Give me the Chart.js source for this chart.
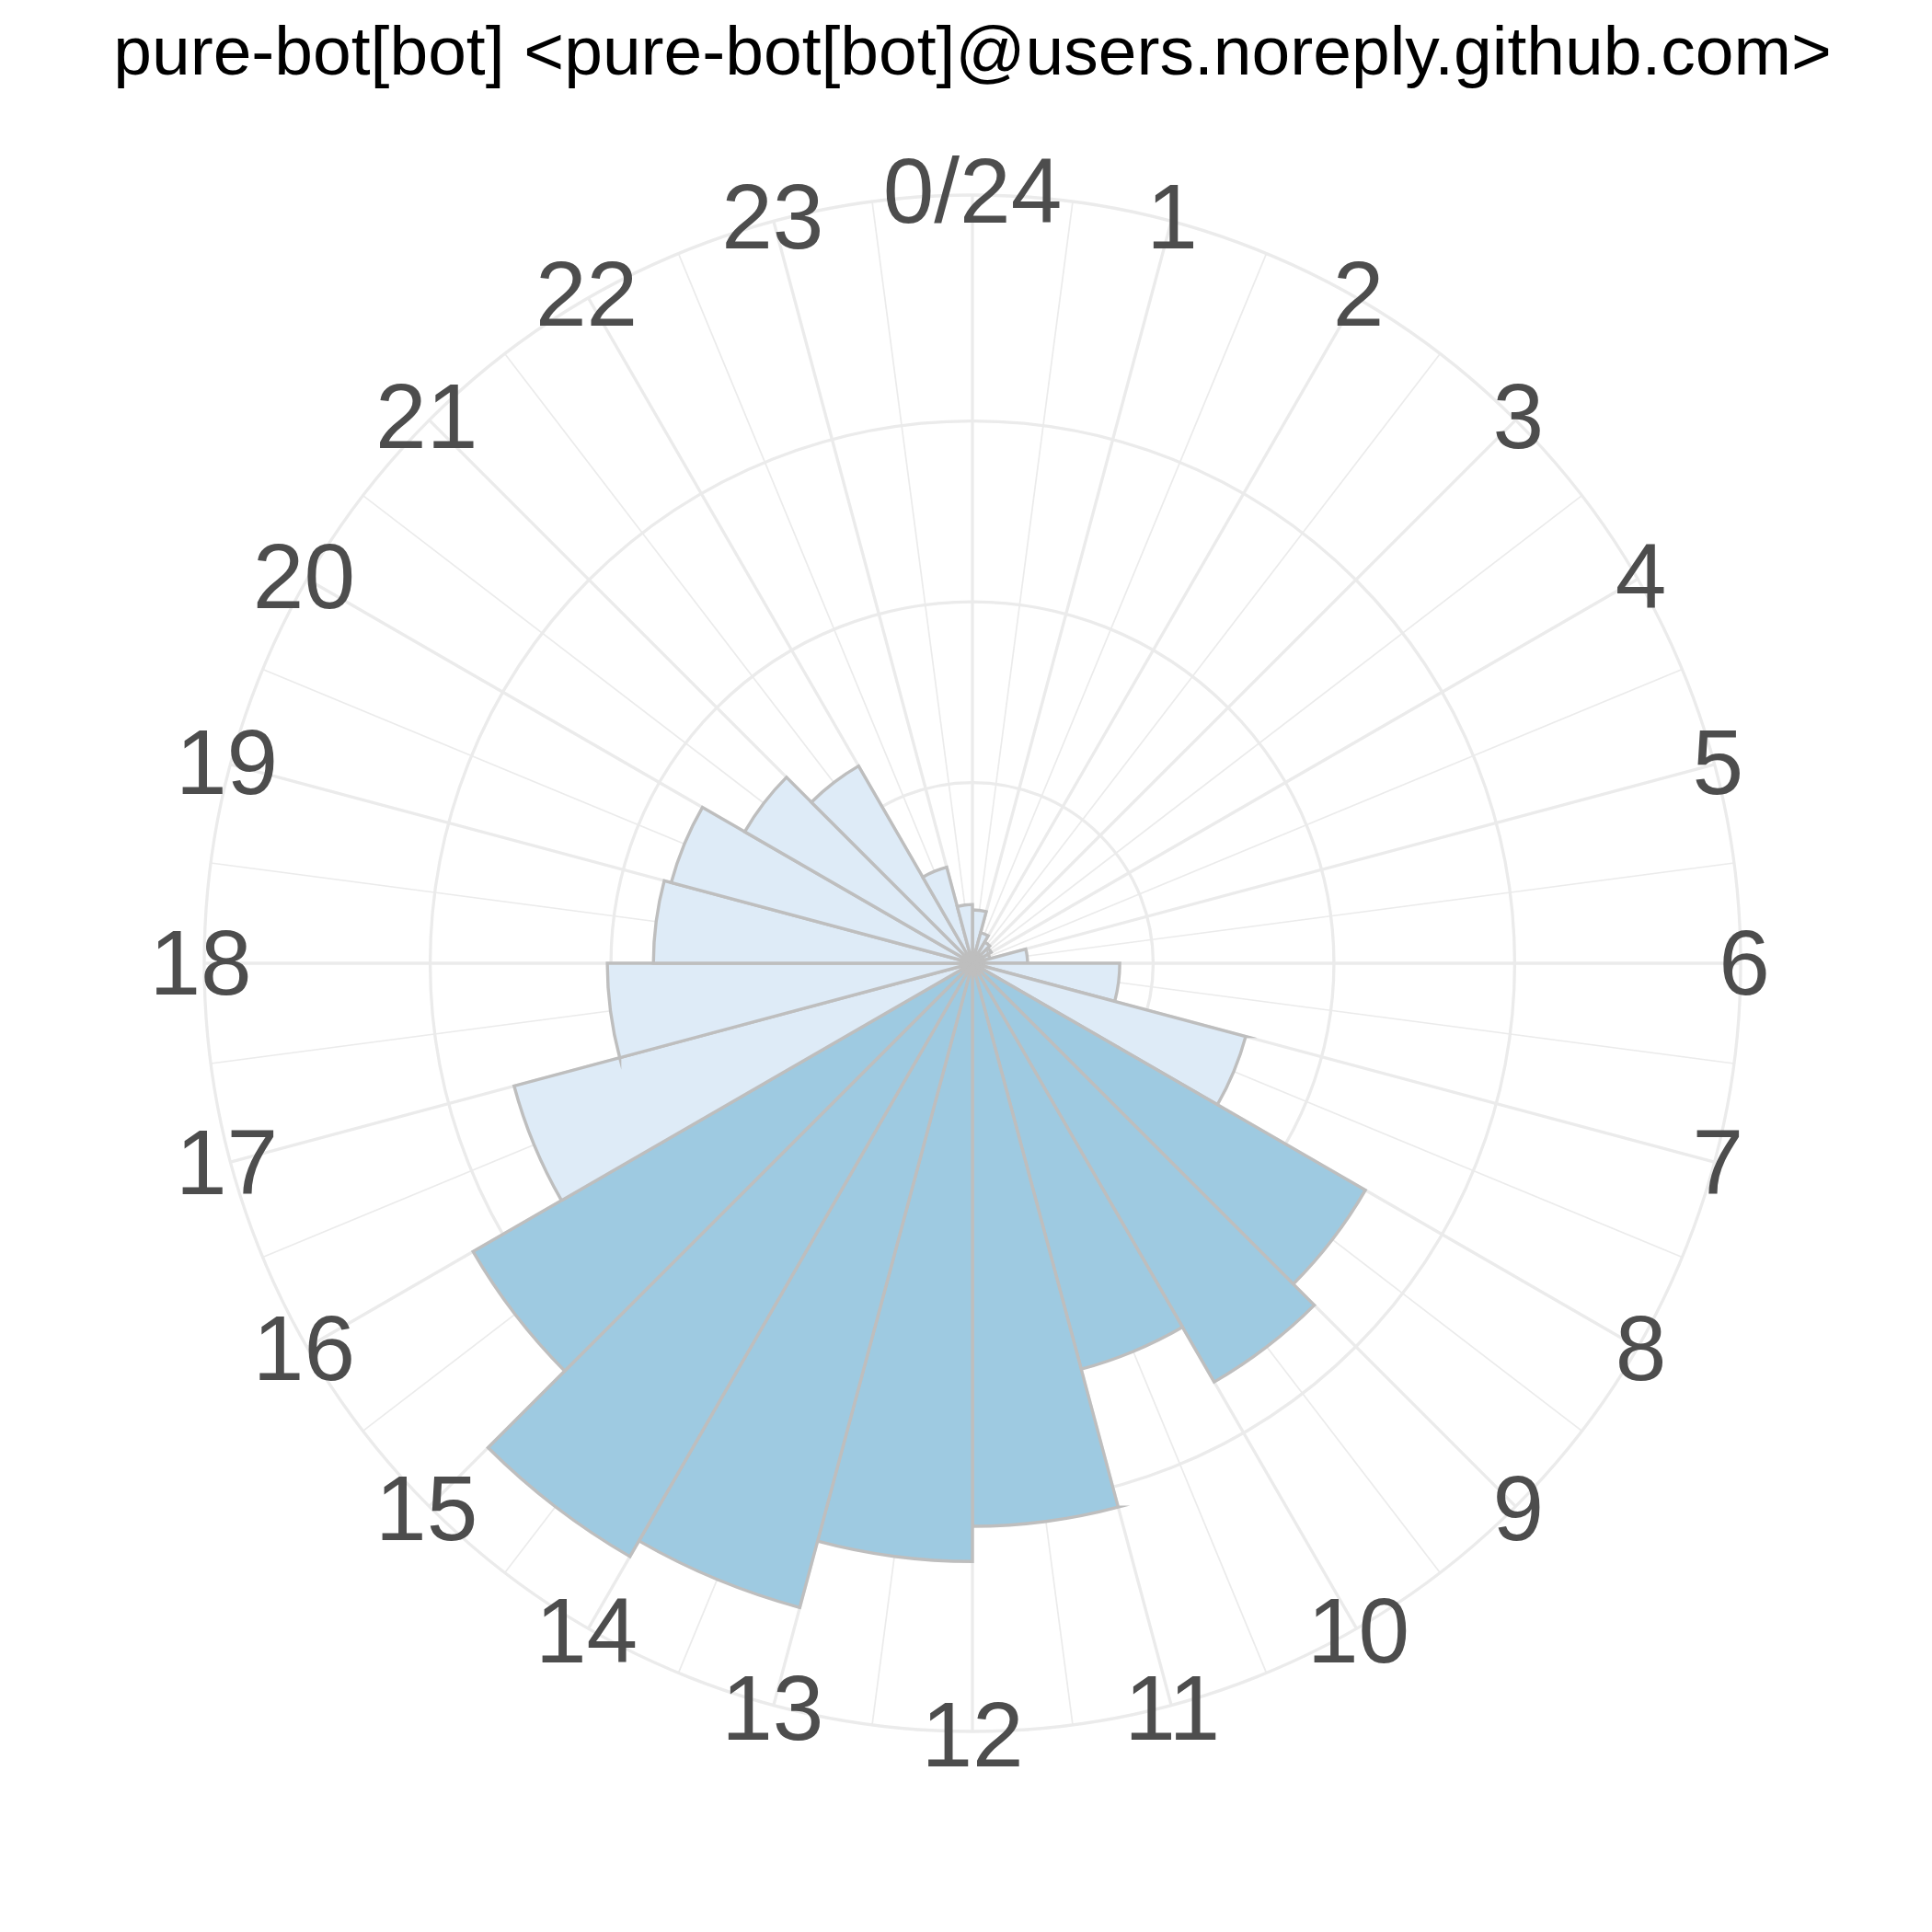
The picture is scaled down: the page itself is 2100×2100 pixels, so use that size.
<!DOCTYPE html>
<html>
<head>
<meta charset="utf-8">
<title>commit hours</title>
<script src="https://cdn.jsdelivr.net/npm/chart.js@4.4.1/dist/chart.umd.min.js"></script>
<style>
    html, body { margin: 0; padding: 0; background: #ffffff; }
</style>
</head>
<body>
<canvas id="hours" width="2100" height="2100"></canvas>
<script>
const hourLabels = ['0/24', '1', '2', '3', '4', '5', '6', '7', '8', '9', '10', '11',
                    '12', '13', '14', '15', '16', '17', '18', '19', '20', '21', '22', '23'];
const commitCounts = [5.9, 3.5, 2.7, 2.4, 2.0, 6.1, 16.3, 31.3, 50.2, 53.5, 46.5, 62.3,
                      66.2, 73.8, 75.8, 63.8, 52.5, 40.4, 35.3, 34.5, 29.1, 25.2, 11.0, 6.5];
const busyHours = [8, 9, 10, 11, 12, 13, 14, 15];
const ringValues = [0, 20, 40, 60, 85];
const chartTitle = 'pure-bot[bot] <pure-bot[bot]@users.noreply.github.com>';

const lightBlue = '#deebf7';
const darkBlue = '#9ecae1';
const gridGrey = '#ebebeb';

// thin spokes half way between the hour spokes
const minorSpokes = {
    id: 'minorSpokes',
    beforeDatasetsDraw(chart) {
        const s = chart.scales.r;
        const ctx = chart.ctx;
        ctx.save();
        ctx.strokeStyle = gridGrey;
        ctx.lineWidth = 1.7;
        for (let i = 0; i < hourLabels.length; i++) {
            const p = s.getPointPosition(i, s.drawingArea, Math.PI / hourLabels.length);
            ctx.beginPath();
            ctx.moveTo(s.xCenter, s.yCenter);
            ctx.lineTo(p.x, p.y);
            ctx.stroke();
        }
        ctx.restore();
    }
};

// hour labels sit centred on the outer ring
const hourText = {
    id: 'hourText',
    afterDatasetsDraw(chart) {
        const s = chart.scales.r;
        const ctx = chart.ctx;
        ctx.save();
        ctx.font = '100px "Liberation Sans", Arial, sans-serif';
        ctx.fillStyle = '#4d4d4d';
        ctx.textAlign = 'center';
        ctx.textBaseline = 'middle';
        hourLabels.forEach((t, i) => {
            const p = s.getPointPosition(i, s.drawingArea + 4);
            ctx.fillText(t, p.x, p.y + 6);
        });
        ctx.restore();
    }
};

new Chart(document.getElementById('hours'), {
    type: 'polarArea',
    data: {
        labels: hourLabels,
        datasets: [{
            data: commitCounts,
            backgroundColor: commitCounts.map((v, i) => busyHours.includes(i) ? darkBlue : lightBlue),
            borderColor: '#bebebe',
            borderWidth: 3.4,
            borderJoinStyle: 'miter'
        }]
    },
    options: {
        responsive: false,
        animation: false,
        layout: {
            // wide box so the title is not squeezed; height sets the ring radius
            padding: { left: 14, right: 0, top: 0, bottom: 218 }
        },
        scales: {
            r: {
                min: 0,
                max: 85,
                startAngle: 0,
                afterBuildTicks: (scale) => {
                    scale.ticks = ringValues.map(v => ({ value: v }));
                },
                ticks: { display: false },
                grid: { circular: true, color: gridGrey, lineWidth: 3.3 },
                angleLines: { display: true, color: gridGrey, lineWidth: 3.3 },
                pointLabels: { display: false }
            }
        },
        plugins: {
            legend: { display: false },
            tooltip: { enabled: false },
            title: {
                display: true,
                text: chartTitle,
                color: '#000000',
                font: { family: '"Liberation Sans", Arial, sans-serif', size: 75, weight: 'normal', lineHeight: 1.2 },
                padding: { top: 15, bottom: 107 }
            }
        }
    },
    plugins: [minorSpokes, hourText]
});
</script>
</body>
</html>
